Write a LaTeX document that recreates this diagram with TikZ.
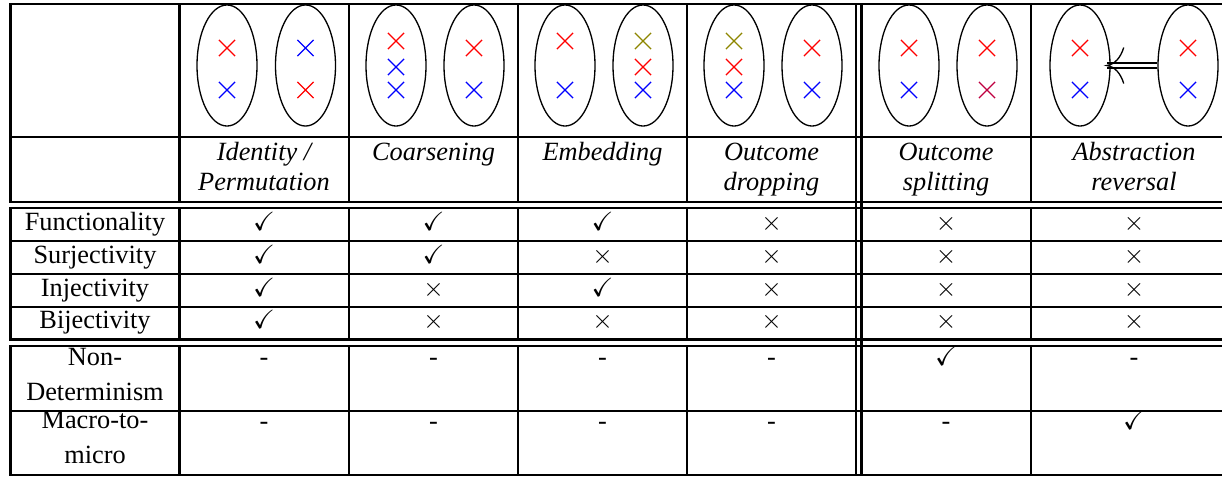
\documentclass[tikz,border=0pt]{standalone}
\usepackage{amssymb}
\usepackage{fontspec}
\setmainfont{Liberation Serif}
\usetikzlibrary{positioning,shapes.geometric,shapes.misc}

\newcommand{\yes}{$\checkmark$}
\newcommand{\no}{$\times$}

\tikzset{
  rule/.style={line width=0.9pt, line cap=rect},
  outcomes/.style={ellipse, draw, line width=0.5pt, minimum width=22.8pt, minimum height=46pt, inner sep=0pt},
  xmark/.style={cross out, draw=#1, line width=0.45pt, minimum size=5.7pt, inner sep=0pt},
  cell/.style={anchor=base, inner sep=0pt, align=center},
  lift/.style={double, double distance=1.5pt, line width=0.4pt},
}

\begin{document}
\begin{tikzpicture}[x=0.38pt, y=-0.38pt]
\useasboundingbox (0,0) rectangle (1222,476);

% table rules
\foreach \y in {4,137,202,208,241,274,307,339.5,346,411,475}
  \draw[rule] (10.5,\y) -- (1222,\y);
\foreach \x in {10.5,179.5,349,518,687,1031} {
  \draw[rule] (\x,4) -- (\x,202);
  \draw[rule] (\x,208) -- (\x,339.5);
  \draw[rule] (\x,346) -- (\x,475);
}
\draw[rule] (856,4) -- (856,475) (861.5,4) -- (861.5,475);

% outcome sets
\node[outcomes] (id1) at (227,65.5) {};
\node[outcomes] (id2) at (305.5,65.5) {};
\node[outcomes] (co1) at (396,65.5) {};
\node[outcomes] (co2) at (474,65.5) {};
\node[outcomes] (em1) at (565,65.5) {};
\node[outcomes] (em2) at (643,65.5) {};
\node[outcomes] (dr1) at (734,65.5) {};
\node[outcomes] (dr2) at (812,65.5) {};
\node[outcomes] (sp1) at (909,65.5) {};
\node[outcomes] (sp2) at (987,65.5) {};
\node[outcomes] (ab1) at (1080,65.5) {};
\node[outcomes] (ab2) at (1188,65.5) {};

% outcomes
\foreach \x/\y/\c [count=\i] in {
    227/48/red, 227/90/blue, 305.5/48/blue, 305.5/90/red,
    396/41/red, 396/67/blue, 396/90/blue, 474/48/red, 474/90/blue,
    565/41/red, 565/90/blue, 643/41/olive, 643/67/red, 643/90/blue,
    734/41/olive, 734/67/red, 734/90/blue, 812/48/red, 812/90/blue,
    909/48/red, 909/90/blue, 987/48/red, 987/90/purple,
    1080/48/red, 1080/90/blue, 1188/48/red, 1188/90/blue}
  \node[xmark=\c] (o\i) at (\x,\y) {};

% reversal arrow
\coordinate (tip) at ([xshift=-1.5pt]ab1.east);
\draw[lift] (ab2.west) -- (tip);
\begin{scope}[shift={(tip)}]
  \draw[line width=0.5pt] (17,-18) .. controls (14,-8) and (8,-1) .. (0,0)
    .. controls (8,1) and (14,8) .. (17,18);
\end{scope}

% header (base = last line)
\foreach \x/\y/\t [count=\i] in {264/190.7/{Identity /\\[-0.5pt]Permutation},
    433.5/160/Coarsening, 602.5/160/Embedding,
    771.5/190.7/{Outcome\\[-0.5pt]dropping}, 946/190.7/{Outcome\\[-0.5pt]splitting},
    1134/190.7/{Abstraction\\[-0.5pt]reversal}}
  \node[cell, font=\itshape] (h\i) at (\x,\y) {\t};

% properties
\node[cell] (fun) at (95,230.5) {Functionality};
\node[cell] (sur) at (95,263) {Surjectivity};
\node[cell] (inj) at (95,296) {Injectivity};
\node[cell] (bij) at (95,328.5) {Bijectivity};
\node[cell] (nondet) at (95,400.7) {Non-\\[1.3pt]Determinism};
\node[cell] (m2m) at (95,463) {Macro-to-\\[1.3pt]micro};

\foreach \x/\m [count=\i] in {264/\yes, 433.5/\yes, 602.5/\yes, 771.5/\no, 946/\no, 1134/\no}
  \node[cell] (fun\i) at (\x,230.5) {\m};
\foreach \x/\m [count=\i] in {264/\yes, 433.5/\yes, 602.5/\no, 771.5/\no, 946/\no, 1134/\no}
  \node[cell] (sur\i) at (\x,263) {\m};
\foreach \x/\m [count=\i] in {264/\yes, 433.5/\no, 602.5/\yes, 771.5/\no, 946/\no, 1134/\no}
  \node[cell] (inj\i) at (\x,296) {\m};
\foreach \x/\m [count=\i] in {264/\yes, 433.5/\no, 602.5/\no, 771.5/\no, 946/\no, 1134/\no}
  \node[cell] (bij\i) at (\x,328.5) {\m};
\foreach \x/\m [count=\i] in {264/-, 433.5/-, 602.5/-, 771.5/-, 946/\yes, 1134/-}
  \node[cell] (nondet\i) at (\x,365.7) {\m};
\foreach \x/\m [count=\i] in {264/-, 433.5/-, 602.5/-, 771.5/-, 946/-, 1134/\yes}
  \node[cell] (m2m\i) at (\x,429) {\m};
\end{tikzpicture}
\end{document}
